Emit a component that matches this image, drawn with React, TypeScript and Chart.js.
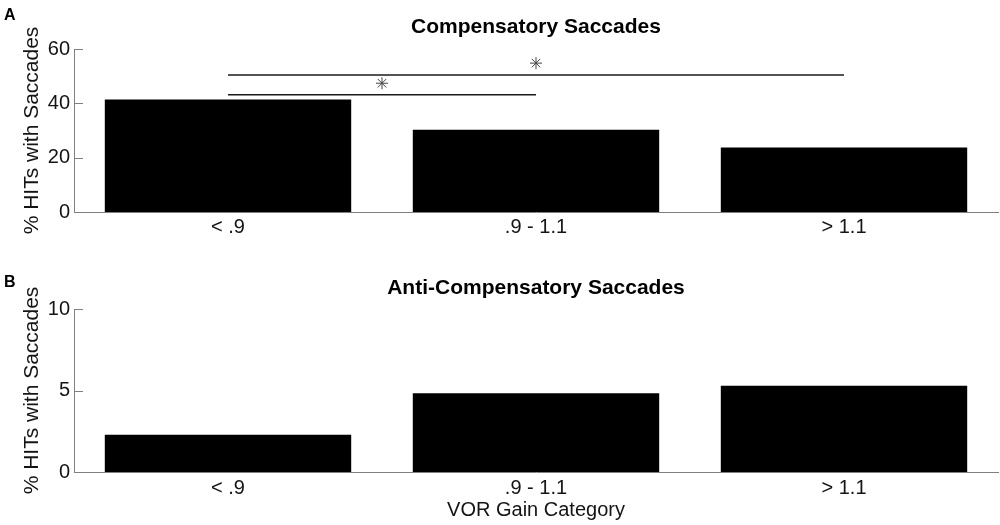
import React, { useEffect, useRef } from "react";
import Chart from "chart.js/auto";

const categories = ["< .9", ".9 - 1.1", "> 1.1"];
const compensatoryPct = [41.4, 30.3, 23.7];
const antiCompensatoryPct = [2.29, 4.83, 5.29];
const compensatoryTicks = [0, 20, 40, 60];
const antiCompensatoryTicks = [0, 5, 10];

// significance brackets in the top panel (category index pairs, heights in % units)
const sigFrom = [0, 0];
const sigTo = [1, 2];
const sigLineY = [43.2, 50.4];
const sigStarY = [47.4, 54.8];

const FONT = "'Liberation Sans', Arial, Helvetica, sans-serif";
const AXIS_GRAY = "#808080";
const TEXT = "#141414";

interface PanelProps {
    id: string;
    letter: string;
    letterY: number;
    title: string;
    titleY: number;
    values: number[];
    ticks: number[];
    height: number;
    top: number;
    padTop: number;
    xAxisHeight: number;
    xTickPad: number;
    xTitle?: string;
    brackets?: boolean;
}

const Panel = (props: PanelProps) => {
    const { id, letter, letterY, title, titleY, values, ticks, height, top, padTop, xAxisHeight, xTickPad, xTitle, brackets } = props;
    const chartRef = useRef<Chart | null>(null);
    const canvasRef = useRef<HTMLCanvasElement | null>(null);

    useEffect(() => {
        if (chartRef.current) {
            chartRef.current.destroy();
        }
        const ctx = canvasRef.current?.getContext("2d");
        if (!ctx) return;

        const decor = {
            id: "decor_" + id,
            afterDraw(chart: any) {
                const c = chart.ctx;
                const area = chart.chartArea;
                const xs = chart.scales.x;
                const ys = chart.scales.y;
                c.save();

                // inward tick marks (matlab style)
                c.strokeStyle = AXIS_GRAY;
                c.lineWidth = 1;
                c.beginPath();
                ys.ticks.forEach((_t: any, i: number) => {
                    const py = Math.round(ys.getPixelForTick(i)) + 0.5;
                    c.moveTo(area.left, py);
                    c.lineTo(area.left + 9, py);
                });
                c.stroke();

                // title over the plot area
                c.fillStyle = "#000";
                c.font = "bold 21px " + FONT;
                c.textAlign = "center";
                c.textBaseline = "middle";
                c.fillText(title, (area.left + area.right) / 2, titleY);

                // panel letter
                c.font = "bold 16px " + FONT;
                c.textAlign = "left";
                c.textBaseline = "alphabetic";
                c.fillText(letter, 4, letterY);

                if (brackets) {
                    for (let i = 0; i < sigFrom.length; i++) {
                        const x1 = xs.getPixelForValue(sigFrom[i]);
                        const x2 = xs.getPixelForValue(sigTo[i]);
                        const ly = ys.getPixelForValue(sigLineY[i]);
                        c.strokeStyle = "#1a1a1a";
                        c.lineWidth = 1.5;
                        c.beginPath();
                        c.moveTo(x1, ly);
                        c.lineTo(x2, ly);
                        c.stroke();

                        const sx = (x1 + x2) / 2;
                        const sy = ys.getPixelForValue(sigStarY[i]);
                        const r = 6;
                        c.strokeStyle = "#444";
                        c.lineWidth = 1;
                        c.beginPath();
                        for (let k = 0; k < 4; k++) {
                            const a = (k * Math.PI) / 4;
                            c.moveTo(sx - r * Math.cos(a), sy - r * Math.sin(a));
                            c.lineTo(sx + r * Math.cos(a), sy + r * Math.sin(a));
                        }
                        c.stroke();
                    }
                }
                c.restore();
            },
        };

        chartRef.current = new Chart(ctx, {
            type: "bar",
            data: {
                labels: categories,
                datasets: [
                    {
                        data: values,
                        backgroundColor: "#000",
                        borderWidth: 0,
                        categoryPercentage: 1,
                        barPercentage: 0.8,
                    },
                ],
            },
            options: {
                animation: false,
                responsive: true,
                maintainAspectRatio: false,
                layout: { padding: { top: padTop, right: 2, left: 0, bottom: 0 } },
                plugins: {
                    legend: { display: false },
                    tooltip: { enabled: false },
                    title: { display: false },
                },
                scales: {
                    x: {
                        grid: { display: false, drawTicks: false },
                        border: { color: AXIS_GRAY, width: 1 },
                        ticks: { color: TEXT, padding: xTickPad, font: { family: FONT, size: 20 } },
                        title: {
                            display: !!xTitle,
                            text: xTitle || "",
                            color: TEXT,
                            font: { family: FONT, size: 20 },
                            padding: { top: 0, bottom: 3 },
                        },
                        afterFit: (scale: any) => {
                            scale.height = xAxisHeight;
                        },
                    },
                    y: {
                        min: ticks[0],
                        max: ticks[ticks.length - 1],
                        grid: { display: false, drawTicks: false },
                        border: { color: AXIS_GRAY, width: 1 },
                        ticks: { color: TEXT, padding: 4, font: { family: FONT, size: 20 } },
                        afterBuildTicks: (scale: any) => {
                            scale.ticks = ticks.map((v) => ({ value: v }));
                        },
                        title: {
                            display: true,
                            text: "% HITs with Saccades",
                            color: TEXT,
                            font: { family: FONT, size: 21 },
                            padding: { top: 20, bottom: 0 },
                        },
                        afterFit: (scale: any) => {
                            scale.width = 74;
                        },
                    },
                },
            },
            plugins: [decor],
        });

        return () => {
            if (chartRef.current) {
                chartRef.current.destroy();
                chartRef.current = null;
            }
        };
    }, [id, letter, letterY, title, titleY, values, ticks, height, padTop, xAxisHeight, xTickPad, xTitle, brackets]);

    return (
        <div style={{ position: "absolute", left: 0, top, width: 1000, height }}>
            <canvas id={id} ref={canvasRef} />
        </div>
    );
};

const App = () => {
    return (
        <div style={{ position: "absolute", left: 0, top: 0, width: 1000, height: 525, background: "#fff" }}>
            <Panel
                id="compensatory"
                letter="A"
                letterY={20}
                title="Compensatory Saccades"
                titleY={27}
                values={compensatoryPct}
                ticks={compensatoryTicks}
                height={262}
                top={0}
                padTop={49}
                xAxisHeight={50}
                xTickPad={3}
                brackets
            />
            <Panel
                id="anticompensatory"
                letter="B"
                letterY={25}
                title="Anti-Compensatory Saccades"
                titleY={26}
                values={antiCompensatoryPct}
                ticks={antiCompensatoryTicks}
                height={263}
                top={262}
                padTop={47}
                xAxisHeight={53}
                xTickPad={4}
                xTitle="VOR Gain Category"
            />
        </div>
    );
};

export default App;
